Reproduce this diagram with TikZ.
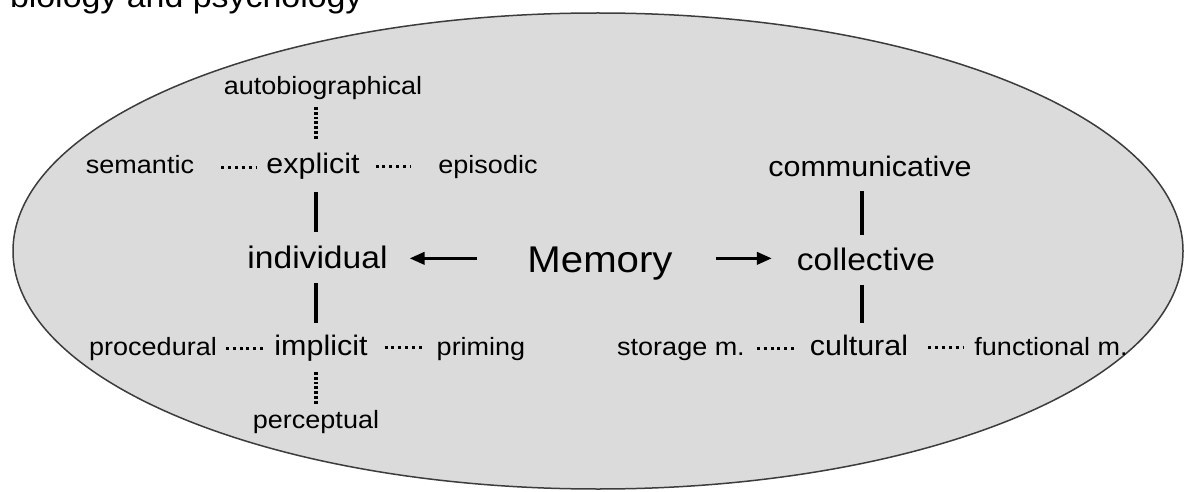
\documentclass[tikz,border=0pt]{standalone}
\usepackage{fontspec}
\setmainfont[FakeStretch=1.08]{Liberation Sans}
\usetikzlibrary{arrows.meta}
\definecolor{ellfill}{RGB}{219,219,219}
\definecolor{elldraw}{RGB}{60,60,60}
\newcommand\fzsmall{\fontsize{25}{30}\selectfont}
\newcommand\fzmid{\fontsize{28.2}{33}\selectfont}
\newcommand\fzbig{\fontsize{31.1}{36}\selectfont}
\newcommand\fzmem{\fontsize{37.2}{44}\selectfont}
\newcommand\fztitle{\fontsize{31.4}{36}\selectfont}
\tikzset{
  lbl/.style={inner sep=0pt, outer sep=0pt, anchor=base, text depth=0pt},
  smalltxt/.style={lbl, font=\fzsmall, text height=13pt},
  midtxt/.style={lbl, font=\fzmid, text height=14.6pt},
  bigtxt/.style={lbl, font=\fzbig, text height=16.1pt},
  memtxt/.style={lbl, font=\fzmem, text height=19.3pt},
  dotsh/.style={line width=3pt, dash pattern=on 3pt off 3.9pt},
  dotsv/.style={line width=3.2pt, dash pattern=on 2.8pt off 2pt},
  solidline/.style={line width=3.5pt},
  arr/.style={line width=3.5pt, -{Triangle[length=15pt,width=12pt]}}
}
\begin{document}
\begin{tikzpicture}[x=1pt,y=-1pt]
\useasboundingbox (0,0) rectangle (1184,492);
% ellipse
\draw[fill=ellfill, draw=elldraw, line width=1.5pt] (598,251) ellipse [x radius=585, y radius=238];
% title (cut off at top)
\node[lbl, anchor=base west, font=\fztitle] (title) at (10,8) {biology and psychology};
% column references
\coordinate (colL) at (316,0);
\coordinate (colR) at (862,0);
% nodes
\node[smalltxt] (autobio) at (323,95) {autobiographical};
\node[smalltxt] (semantic) at (140,174) {semantic};
\node[midtxt] (explicit) at (313,174) {explicit};
\node[smalltxt] (episodic) at (488,174) {episodic};
\node[bigtxt] (individual) at (317.5,268) {individual};
\node[memtxt] (memory) at (600,272) {Memory};
\node[bigtxt] (collective) at (866,270) {collective};
\node[midtxt] (communicative) at (870,176) {communicative};
\node[smalltxt] (procedural) at (153,355) {procedural};
\node[midtxt] (implicit) at (321,355) {implicit};
\node[smalltxt] (priming) at (481,355) {priming};
\node[smalltxt] (perceptual) at (316,428) {perceptual};
\node[smalltxt] (storage) at (681,355) {storage m.};
\node[midtxt] (cultural) at (859,355) {cultural};
\node[smalltxt] (functional) at (1051,355) {functional m.};
% horizontal dotted connectors
\draw[dotsh, shorten <=27pt, shorten >=10pt] (semantic.east) -- (semantic.east -| explicit.west);
\draw[dotsh, shorten <=16pt, shorten >=27pt] (explicit.east) -- (explicit.east -| episodic.west);
\draw[dotsh, shorten <=9pt, shorten >=11pt] (procedural.east) -- (procedural.east -| implicit.west);
\draw[dotsh, shorten <=17pt, shorten >=14pt] (implicit.east) -- (implicit.east -| priming.west);
\draw[dotsh, shorten <=12pt, shorten >=15pt] (storage.east) -- (storage.east -| cultural.west);
\draw[dotsh, shorten <=20pt, shorten >=10pt] (cultural.east) -- (cultural.east -| functional.west);
% vertical dotted connectors
\draw[dotsv, shorten <=12pt, shorten >=19pt] (autobio.south -| colL) -- (explicit.north -| colL);
\draw[dotsv, shorten <=17pt, shorten >=10pt] (implicit.south -| colL) -- (perceptual.north -| colL);
% vertical solid connectors
\draw[solidline, shorten <=18pt, shorten >=20pt] (explicit.south -| colL) -- (individual.north -| colL);
\draw[solidline, shorten <=15pt, shorten >=17pt] (individual.south -| colL) -- (implicit.north -| colL);
\draw[solidline, shorten <=15pt, shorten >=19pt] (communicative.south -| colR) -- (collective.north -| colR);
\draw[solidline, shorten <=15pt, shorten >=17pt] (collective.south -| colR) -- (cultural.north -| colR);
% arrows
\draw[arr, shorten <=50pt, shorten >=22pt] ([yshift=4pt]memory.west) -- ([yshift=4pt]memory.west -| individual.east);
\draw[arr, shorten <=43pt, shorten >=25pt] ([yshift=4pt]memory.east) -- ([yshift=4pt]memory.east -| collective.west);
\end{tikzpicture}
\end{document}
